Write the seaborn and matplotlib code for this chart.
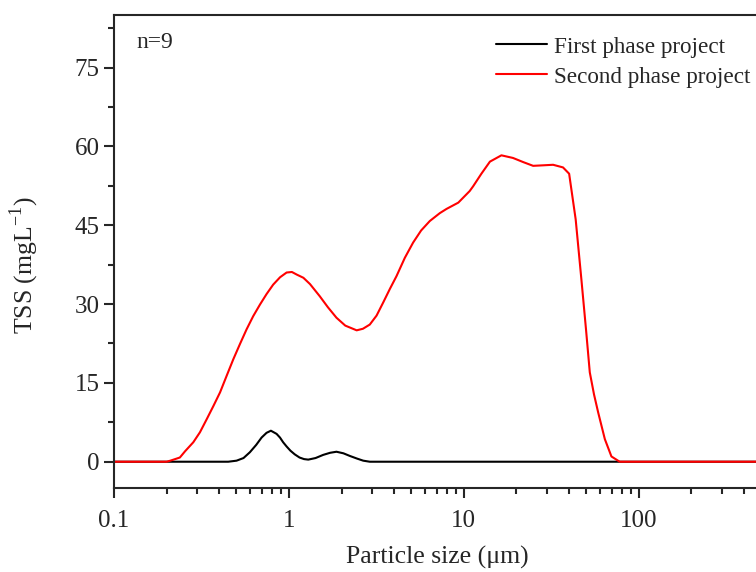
import numpy as np
import pandas as pd
import matplotlib
matplotlib.use('Agg')
import matplotlib.pyplot as plt
import seaborn as sns
from matplotlib.ticker import LogLocator, MultipleLocator, FuncFormatter

sns.set_style('ticks')
plt.rcParams['font.family'] = ['Liberation Serif', 'DejaVu Serif']
plt.rcParams['mathtext.fontset'] = 'custom'
plt.rcParams['mathtext.rm'] = 'Liberation Serif'

# particle size (um) and TSS (mg/L)
size_first = [0.1, 0.45, 0.502, 0.55, 0.598, 0.65, 0.698, 0.745, 0.789, 0.85, 0.889, 0.927,
              0.97, 1.02, 1.08, 1.15, 1.22, 1.29, 1.42, 1.57, 1.72, 1.87, 2.05, 2.23, 2.45,
              2.66, 2.9, 500]
tss_first = [0, 0, 0.2, 0.7, 1.8, 3.2, 4.6, 5.5, 5.9, 5.3, 4.6, 3.7,
             2.9, 2.1, 1.4, 0.8, 0.5, 0.4, 0.7, 1.3, 1.7, 1.9, 1.6, 1.1, 0.6,
             0.2, 0, 0]

size_second = [0.1, 0.2, 0.21, 0.238, 0.255, 0.284, 0.31, 0.339, 0.37, 0.404, 0.44, 0.481,
               0.525, 0.573, 0.625, 0.683, 0.745, 0.813, 0.89, 0.97, 1.04, 1.11, 1.21, 1.32,
               1.5, 1.67, 1.87, 2.1, 2.44, 2.65, 2.9, 3.17, 3.46, 3.78, 4.12, 4.6, 5.13, 5.7,
               6.39, 7.29, 7.96, 9.3, 10.8, 11.3, 12.6, 14.1, 16.4, 19.1, 21.9, 24.9, 28.5,
               32.4, 36.9, 40.0, 43.6, 47.0, 50.0, 52.5, 55.5, 58.6, 64.0, 69.8, 77.8, 100, 500]
tss_second = [0, 0, 0.2, 0.8, 2.0, 3.7, 5.6, 8.1, 10.6, 13.2, 16.3, 19.5,
              22.4, 25.2, 27.7, 29.9, 31.9, 33.7, 35.1, 36.0, 36.1, 35.6, 35.0, 33.8,
              31.5, 29.4, 27.4, 25.9, 25.0, 25.3, 26.1, 27.8, 30.3, 32.9, 35.3, 38.8, 41.7, 44.0,
              45.8, 47.3, 48.1, 49.3, 51.5, 52.4, 54.8, 57.1, 58.3, 57.8, 57.0, 56.3, 56.4,
              56.5, 56.0, 54.8, 46.1, 34.7, 25.0, 17.0, 12.8, 9.4, 4.3, 1.0, 0, 0, 0]

series_names = ['First phase project', 'Second phase project']

df = pd.concat([
    pd.DataFrame({'size': size_first, 'tss': tss_first, 'group': series_names[0]}),
    pd.DataFrame({'size': size_second, 'tss': tss_second, 'group': series_names[1]}),
])

fig = plt.figure(figsize=(7.56, 5.72), dpi=100)
ax = fig.add_axes([114/756, 84/572, 647/756, 473/572])

sns.lineplot(data=df, x='size', y='tss', hue='group', palette=['black', 'red'],
             linewidth=1.5, ax=ax, sort=False)

ax.set_xscale('log')
ax.set_xlim(0.1, 500)
ax.set_ylim(-5, 85)
ax.yaxis.set_major_locator(MultipleLocator(15))
ax.yaxis.set_minor_locator(MultipleLocator(7.5))
ax.xaxis.set_major_locator(LogLocator(base=10))
ax.xaxis.set_minor_locator(LogLocator(base=10, subs=np.arange(2, 10)))
ax.xaxis.set_major_formatter(FuncFormatter(lambda v, p: '%g' % v))

for s in ax.spines.values():
    s.set_linewidth(1.5)
ax.tick_params(which='major', length=7, width=1.5, labelsize=18, direction='out')
ax.tick_params(axis='x', which='major', pad=9)
ax.tick_params(which='minor', length=4, width=1.5, direction='out')

ax.set_xlabel('Particle size (μm)', fontsize=18.5)
ax.set_ylabel('TSS (mgL$^{-1}$)', fontsize=18.5)
ax.xaxis.set_label_coords(0.5, -0.123)
ax.yaxis.set_label_coords(-0.113, 0.47)

ax.text(0.034, 0.941, 'n=9', transform=ax.transAxes, fontsize=17, va='center', ha='left')
ax.legend(loc='upper left', bbox_to_anchor=(0.591, 0.955), frameon=False, fontsize=16.7,
          title=None, handlelength=2.2, handletextpad=0.3, labelspacing=0.38,
          borderpad=0, borderaxespad=0)

fig.savefig('out.png', dpi=100)
